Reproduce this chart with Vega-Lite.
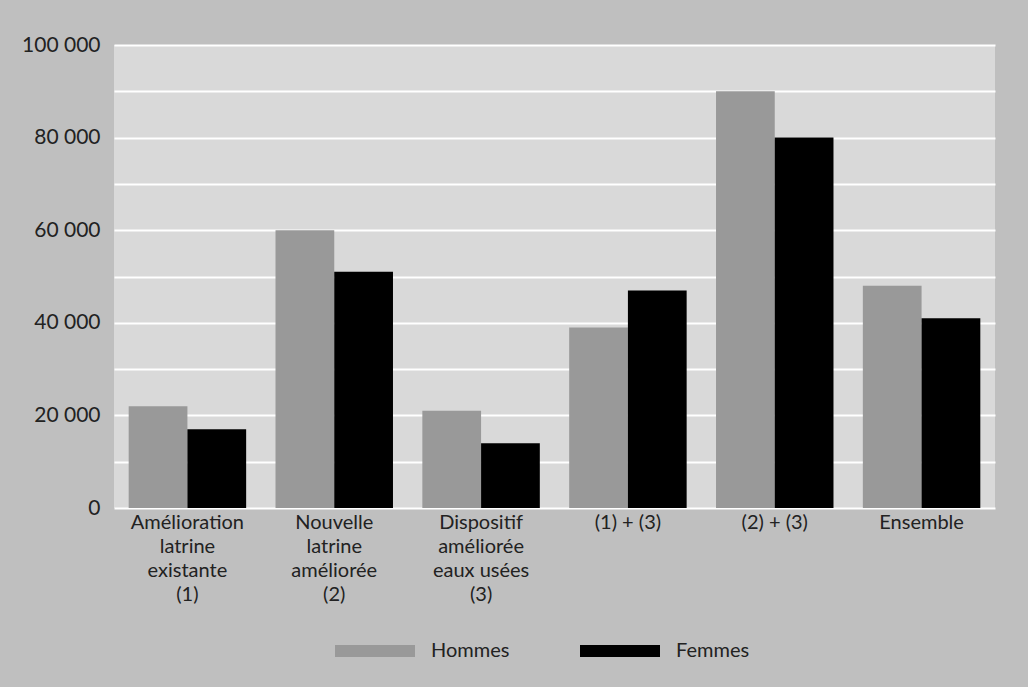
{
  "$schema": "https://vega.github.io/schema/vega-lite/v6.json",
  "autosize": {"type": "none"},
  "padding": {"left": 114, "top": 45, "right": 33, "bottom": 179},
  "width": 881,
  "height": 463,
  "background": "#bfbfbf",
  "data": {
    "values": [
      {"cat": "Amélioration|latrine|existante|(1)", "sexe": "Hommes", "v": 22000},
      {"cat": "Amélioration|latrine|existante|(1)", "sexe": "Femmes", "v": 17000},
      {"cat": "Nouvelle|latrine|améliorée|(2)", "sexe": "Hommes", "v": 60000},
      {"cat": "Nouvelle|latrine|améliorée|(2)", "sexe": "Femmes", "v": 51000},
      {"cat": "Dispositif|améliorée|eaux usées|(3)", "sexe": "Hommes", "v": 21000},
      {"cat": "Dispositif|améliorée|eaux usées|(3)", "sexe": "Femmes", "v": 14000},
      {"cat": "(1) + (3)", "sexe": "Hommes", "v": 39000},
      {"cat": "(1) + (3)", "sexe": "Femmes", "v": 47000},
      {"cat": "(2) + (3)", "sexe": "Hommes", "v": 90000},
      {"cat": "(2) + (3)", "sexe": "Femmes", "v": 80000},
      {"cat": "Ensemble", "sexe": "Hommes", "v": 48000},
      {"cat": "Ensemble", "sexe": "Femmes", "v": 41000}
    ]
  },
  "config": {
    "font": "Lato",
    "view": {"fill": "#d9d9d9", "stroke": null},
    "axis": {"labelFont": "Lato", "labelFontSize": 20, "labelColor": "#222222", "labelFontWeight": "normal"},
    "legend": {"labelFont": "Lato", "labelFontSize": 20, "labelColor": "#222222", "labelFontWeight": "normal"}
  },
  "mark": {"type": "bar"},
  "encoding": {
    "x": {
      "field": "cat",
      "type": "nominal",
      "sort": null,
      "scale": {"paddingInner": 0.2, "paddingOuter": 0.1},
      "axis": {
        "title": null,
        "labelAngle": 0,
        "labelExpr": "split(datum.label, '|')",
        "labelLineHeight": 24,
        "labelPadding": 4,
        "ticks": false,
        "domain": false,
        "grid": false,
        "labelBaseline": "top"
      }
    },
    "xOffset": {"field": "sexe", "type": "nominal", "sort": ["Hommes", "Femmes"]},
    "y": {
      "field": "v",
      "type": "quantitative",
      "scale": {"domain": [0, 100000], "nice": false},
      "axis": {
        "title": null,
        "values": [0, 10000, 20000, 30000, 40000, 50000, 60000, 70000, 80000, 90000, 100000],
        "labelExpr": "datum.value % 20000 == 0 ? replace(format(datum.value, ','), ',', ' ') : ''",
        "labelFontSize": 21,
        "grid": true,
        "gridColor": "#ffffff",
        "gridWidth": 2,
        "gridOpacity": 1,
        "ticks": false,
        "domain": false,
        "labelPadding": 14
      }
    },
    "color": {
      "field": "sexe",
      "type": "nominal",
      "sort": ["Hommes", "Femmes"],
      "scale": {"domain": ["Hommes", "Femmes"], "range": ["#999999", "#000000"]},
      "legend": {
        "title": null,
        "orient": "none",
        "direction": "horizontal",
        "legendX": 221,
        "legendY": 566,
        "symbolType": "M-1,-0.15H1V0.15H-1Z",
        "symbolSize": 6400,
        "symbolStrokeWidth": 0,
        "labelOffset": 16,
        "columnPadding": 70
      }
    }
  }
}
